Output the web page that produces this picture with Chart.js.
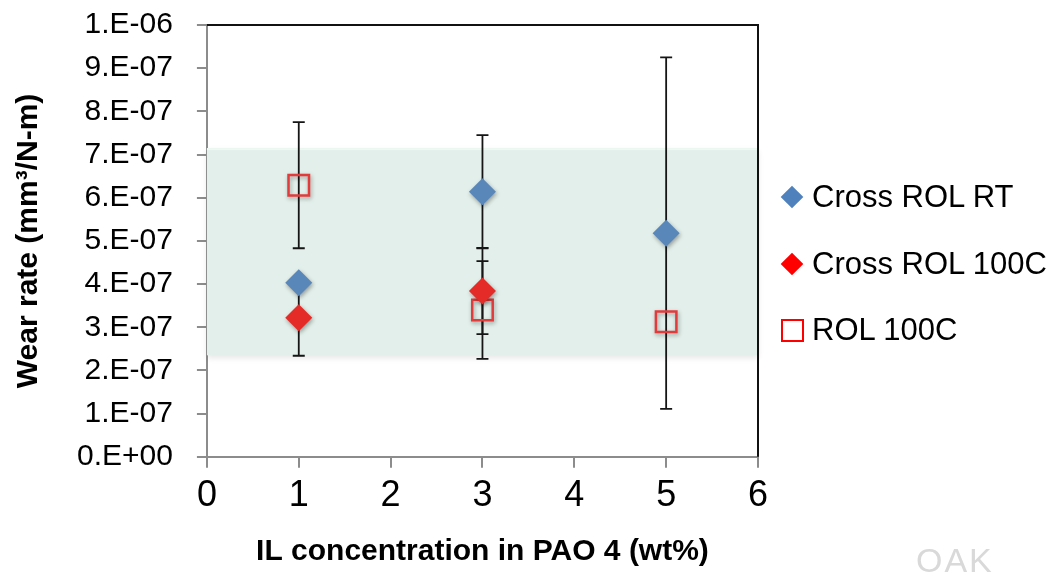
<!DOCTYPE html>
<html>
<head>
<meta charset="utf-8">
<title>Wear rate vs IL concentration</title>
<script src="https://cdn.jsdelivr.net/npm/chart.js@4.4.1/dist/chart.umd.min.js"></script>
<style>
  html, body { margin: 0; padding: 0; background: #fff; }
  #wrap { position: relative; width: 1051px; height: 573px; overflow: hidden;
          font-family: 'Liberation Sans', Arial, sans-serif; }
  #wearChart { position: absolute; left: 0; top: 0; }
  #legend { position: absolute; left: 780px; top: 164px; }
  #legend .item { height: 66.5px; display: flex; align-items: center; font-size: 31px; color: #000; }
  #legend .mk { width: 24px; height: 24px; margin-right: 8px; display: flex;
                align-items: center; justify-content: center; }
  #legend .diamond { width: 16px; height: 16px; transform: rotate(45deg); }
  #legend .square { width: 23px; height: 23px; box-sizing: border-box; border: 2.5px solid #ff0000; }
  #logo { position: absolute; left: 916px; top: 541px; font-size: 34px; letter-spacing: 2px;
          color: #d9d9d9; }
</style>
</head>
<body>
<div id="wrap">
  <canvas id="wearChart" width="1051" height="573"></canvas>
  <div id="legend"></div>
  <div id="logo">OAK</div>
</div>
<script>
// IL concentration (wt%) for each test
const ilConc = [1, 3, 5];

// wear rate, mm3/N-m, with +/- error
const crossRolRT = [4.03e-7, 6.14e-7, 5.18e-7];
const crossRolRTErr = [null, 1.31e-7, 4.07e-7];
const crossRol100C = [3.22e-7, 3.84e-7, null];
const crossRol100CErr = [0.88e-7, 1.0e-7, null];
const rol100C = [6.29e-7, 3.40e-7, 3.13e-7];
const rol100CErr = [1.46e-7, 1.13e-7, null];

// shaded reference range
const bandLow = 2.35e-7;
const bandHigh = 7.15e-7;

const yTickLabels = ['0.E+00', '1.E-07', '2.E-07', '3.E-07', '4.E-07', '5.E-07',
                     '6.E-07', '7.E-07', '8.E-07', '9.E-07', '1.E-06'];
const xTickLabels = ['0', '1', '2', '3', '4', '5', '6'];

const series = [
  { label: 'Cross ROL RT', values: crossRolRT, errs: crossRolRTErr, color: '#5a87b9', legendColor: '#4f81bd', shape: 'diamond' },
  { label: 'Cross ROL 100C', values: crossRol100C, errs: crossRol100CErr, color: '#e52b27', legendColor: '#ff0000', shape: 'diamond' },
  { label: 'ROL 100C', values: rol100C, errs: rol100CErr, color: '#e23b3b', legendColor: '#ff0000', shape: 'square' }
];

const toPoints = vals => ilConc.map((x, i) => ({ x: x, y: vals[i] })).filter(p => p.y !== null);

const datasets = series.map(s => ({
  label: s.label,
  data: toPoints(s.values),
  errs: s.errs.filter((e, i) => s.values[i] !== null),
  pointStyle: s.shape === 'diamond' ? 'rectRot' : 'rect',
  pointRadius: s.shape === 'diamond' ? 13.5 : 14.5,
  backgroundColor: s.shape === 'diamond' ? s.color : 'rgba(0,0,0,0)',
  borderColor: s.color,
  borderWidth: s.shape === 'diamond' ? 0 : 2.5,
  showLine: false
}));

// green band behind the data
const bandPlugin = {
  id: 'band',
  beforeDatasetsDraw(chart) {
    const { ctx, chartArea, scales } = chart;
    const top = scales.y.getPixelForValue(bandHigh);
    const bottom = scales.y.getPixelForValue(bandLow);
    ctx.save();
    ctx.shadowColor = 'rgba(0,0,0,0.10)';
    ctx.shadowBlur = 6;
    ctx.shadowOffsetY = 3;
    ctx.fillStyle = '#e3efea';
    ctx.fillRect(chartArea.left, top, chartArea.right - chartArea.left, bottom - top);
    ctx.restore();
    ctx.fillStyle = '#eef8f4';
    ctx.fillRect(chartArea.left, top, chartArea.right - chartArea.left, 2);
  }
};

// vertical error bars with caps, plus soft marker shadows
const errorBarPlugin = {
  id: 'errorBars',
  beforeDatasetsDraw(chart) {
    const { ctx, scales } = chart;
    ctx.save();
    ctx.strokeStyle = '#151515';
    ctx.lineWidth = 1.8;
    chart.data.datasets.forEach(ds => {
      ds.data.forEach((p, i) => {
        const e = ds.errs[i];
        if (!e) return;
        const x = scales.x.getPixelForValue(p.x);
        const yHi = scales.y.getPixelForValue(p.y + e);
        const yLo = scales.y.getPixelForValue(p.y - e);
        ctx.beginPath();
        ctx.moveTo(x, yHi); ctx.lineTo(x, yLo);
        ctx.moveTo(x - 6, yHi); ctx.lineTo(x + 6, yHi);
        ctx.moveTo(x - 6, yLo); ctx.lineTo(x + 6, yLo);
        ctx.stroke();
      });
    });
    ctx.restore();
  },
  beforeDatasetDraw(chart) {
    const ctx = chart.ctx;
    ctx.save();
    ctx.shadowColor = 'rgba(0,0,0,0.35)';
    ctx.shadowBlur = 4;
    ctx.shadowOffsetX = 1;
    ctx.shadowOffsetY = 2;
  },
  afterDatasetDraw(chart) {
    chart.ctx.restore();
  }
};

// dark top and right edges of the plot box
const framePlugin = {
  id: 'frame',
  afterDatasetsDraw(chart) {
    const { ctx, chartArea } = chart;
    ctx.save();
    ctx.strokeStyle = '#111';
    ctx.lineWidth = 2;
    ctx.beginPath();
    ctx.moveTo(chartArea.left, chartArea.top);
    ctx.lineTo(chartArea.right, chartArea.top);
    ctx.lineTo(chartArea.right, chartArea.bottom);
    ctx.stroke();
    ctx.restore();
  }
};

const axisFont = { family: "'Liberation Sans', Arial, sans-serif" };

new Chart(document.getElementById('wearChart'), {
  type: 'scatter',
  data: { datasets: datasets },
  plugins: [bandPlugin, errorBarPlugin, framePlugin],
  options: {
    responsive: false,
    animation: false,
    layout: { padding: { left: 11, right: 293, top: 25, bottom: 3 } },
    plugins: { legend: { display: false }, tooltip: { enabled: false } },
    scales: {
      x: {
        type: 'linear', min: 0, max: 6,
        ticks: { stepSize: 1, maxRotation: 0, padding: 7, color: '#000',
                 font: { ...axisFont, size: 36 },
                 callback: (v, i) => xTickLabels[i] },
        grid: { drawOnChartArea: false, tickLength: 11, color: '#8c8c8c', lineWidth: 2 },
        border: { color: '#8c8c8c', width: 2 },
        title: { display: true, text: 'IL concentration in PAO 4 (wt%)', color: '#000',
                 font: { ...axisFont, size: 30, weight: 'bold' }, padding: { top: 9, bottom: 0 } }
      },
      y: {
        min: 0, max: 1e-6,
        // the wide label gap would otherwise push the plot top down
        afterFit: scale => { scale.paddingTop = 0; scale.paddingBottom = 0; },
        ticks: { stepSize: 1e-7, padding: 24, color: '#000',
                 font: { ...axisFont, size: 30 },
                 callback: (v, i) => yTickLabels[i] },
        grid: { drawOnChartArea: false, tickLength: 10, color: '#8c8c8c', lineWidth: 2 },
        border: { color: '#8c8c8c', width: 2 },
        title: { display: true, text: 'Wear rate (mm³/N-m)', color: '#000',
                 font: { ...axisFont, size: 30, weight: 'bold' }, padding: { top: 0, bottom: 6 } }
      }
    }
  }
});

// legend on the right
const legendEl = document.getElementById('legend');
series.forEach(s => {
  const item = document.createElement('div');
  item.className = 'item';
  const mk = document.createElement('span');
  mk.className = 'mk';
  const shape = document.createElement('span');
  shape.className = s.shape;
  if (s.shape === 'diamond') shape.style.background = s.legendColor;
  mk.appendChild(shape);
  const txt = document.createElement('span');
  txt.textContent = s.label;
  item.appendChild(mk);
  item.appendChild(txt);
  legendEl.appendChild(item);
});
</script>
</body>
</html>
